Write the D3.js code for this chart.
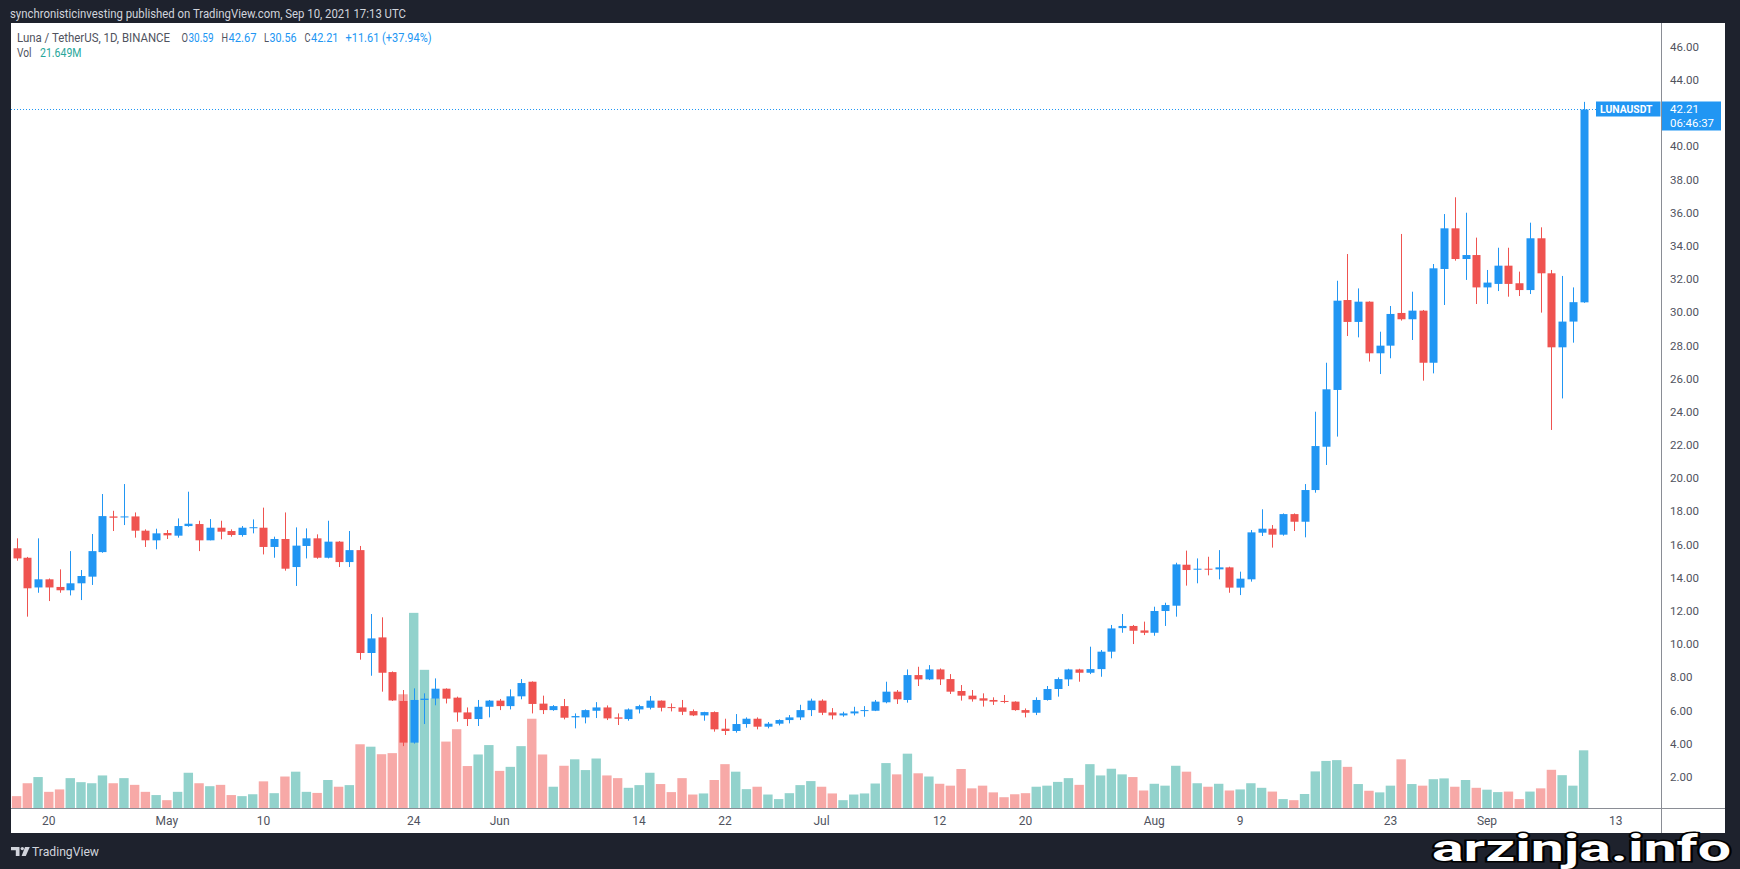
<!DOCTYPE html>
<html><head><meta charset="utf-8">
<script src="https://cdn.jsdelivr.net/npm/d3@7"></script>
<style>html,body{margin:0;padding:0;background:#1e222d;overflow:hidden}svg{display:block}text{font-family:Roboto,"Noto Sans",sans-serif}</style>
</head><body><svg id="c" width="1740" height="869"></svg>
<script>
// ---- data (LUNA/USDT daily, Apr 17 – Sep 10 2021) ----
const firstDay = new Date(Date.UTC(2021, 3, 17));
const lastDay = new Date(Date.UTC(2021, 8, 10));
const openV = [15.77,15.20,13.41,13.90,13.44,13.24,13.66,14.06,15.54,17.69,17.63,17.69,16.83,16.25,16.69,16.53,17.11,17.23,16.25,17.01,16.81,16.57,17.01,17.01,15.85,16.33,14.64,15.91,16.37,15.20,16.17,14.94,15.66,9.46,10.40,8.31,6.57,4.06,6.63,6.71,7.31,6.77,5.88,5.48,6.22,6.59,6.26,6.85,7.73,6.41,6.02,6.26,5.58,5.58,5.98,6.18,5.58,5.48,6.06,6.16,6.59,6.20,6.18,5.96,5.70,5.90,4.90,4.76,5.18,5.50,5.02,5.20,5.42,5.58,6.02,6.59,5.88,5.70,5.82,5.96,5.98,6.49,7.13,6.63,8.13,7.87,8.47,7.89,7.17,6.89,6.73,6.63,6.57,6.53,6.02,5.86,6.63,7.29,7.87,8.47,8.27,8.49,9.54,10.96,11.09,10.82,10.68,11.99,12.31,14.78,14.48,14.54,14.50,14.62,13.40,13.90,16.71,16.95,16.59,17.83,17.37,19.28,21.89,25.31,30.73,29.41,30.63,27.52,27.98,29.95,29.57,30.09,26.95,32.60,35.05,33.20,33.44,31.49,31.70,32.80,31.74,31.33,34.45,32.34,27.88,29.43,30.59];
const highV = [16.37,15.25,16.37,13.95,14.50,15.60,14.46,16.63,19.04,18.03,19.64,17.93,16.91,16.95,16.87,17.57,19.18,17.43,17.53,17.43,16.91,17.11,17.51,18.22,16.47,17.93,17.03,16.97,16.61,17.43,16.20,16.81,15.91,11.81,11.61,8.35,7.23,7.33,7.03,7.93,7.33,6.83,6.18,6.63,6.63,6.69,7.27,7.89,7.75,6.89,6.32,6.69,5.82,6.06,6.50,6.30,5.82,6.12,6.34,6.87,6.60,6.42,6.63,6.06,5.92,5.94,5.50,5.78,5.58,5.58,5.30,5.46,5.72,6.34,6.71,6.67,6.14,5.92,6.22,6.26,6.63,7.73,7.23,8.47,8.63,8.73,8.53,8.19,7.53,7.23,7.03,6.79,6.93,6.55,6.12,6.79,7.47,7.99,8.51,8.51,9.84,9.64,11.15,11.81,11.15,11.35,12.25,12.49,14.90,15.63,15.16,15.26,15.66,14.66,14.36,16.87,18.12,17.17,17.87,17.87,19.64,24.00,26.95,31.89,33.50,31.43,30.65,28.82,30.37,34.71,31.23,30.13,32.90,35.91,36.92,35.99,34.49,32.54,33.88,33.88,32.44,35.39,35.11,32.54,32.18,31.49,42.67];
const lowV = [15.02,11.65,13.09,12.59,13.09,12.93,12.65,13.56,15.50,16.81,17.17,16.41,15.85,15.71,16.33,16.41,17.07,15.60,16.25,16.31,16.47,16.47,16.67,15.40,15.20,14.42,13.50,15.16,15.14,15.16,14.64,14.64,9.06,8.09,7.13,6.57,3.85,4.00,5.18,6.31,6.42,5.32,5.06,5.06,5.58,6.02,6.06,6.67,5.82,5.78,5.98,5.46,4.92,5.22,5.54,5.42,5.12,5.38,5.82,6.06,5.94,5.94,5.72,5.66,5.38,4.72,4.52,4.66,4.96,4.86,4.92,5.10,5.22,5.42,5.66,5.72,5.46,5.62,5.70,5.62,5.96,6.43,6.39,6.47,7.47,7.83,7.53,6.99,6.59,6.53,6.23,6.33,6.43,5.98,5.58,5.72,6.59,6.83,7.47,7.73,8.19,8.03,9.14,10.68,10.00,10.54,10.50,11.09,11.65,13.52,13.66,14.14,13.90,13.09,12.95,13.76,16.51,15.81,16.53,16.81,16.43,19.12,20.79,22.50,28.56,28.48,27.02,26.27,27.22,29.49,28.32,25.87,26.31,30.43,33.10,31.94,30.49,30.49,31.27,30.93,30.97,31.09,29.97,22.90,24.80,28.16,30.56];
const closeV = [15.16,13.36,13.90,13.41,13.24,13.66,14.10,15.60,17.71,17.61,17.69,16.83,16.25,16.67,16.55,17.11,17.25,16.25,17.01,16.77,16.57,17.01,17.04,15.85,16.33,14.54,15.93,16.37,15.20,16.17,14.94,15.66,9.46,10.34,8.27,6.60,4.06,6.63,6.71,7.31,6.71,5.88,5.48,6.22,6.59,6.26,6.85,7.65,6.39,6.02,6.26,5.56,5.66,6.02,6.18,5.52,5.50,6.06,6.26,6.59,6.16,6.14,5.92,5.70,5.90,4.86,4.76,5.18,5.50,5.02,5.20,5.42,5.58,6.02,6.59,5.86,5.70,5.82,5.94,6.02,6.53,7.13,6.67,8.13,7.87,8.47,7.87,7.13,6.89,6.67,6.59,6.53,6.51,6.02,5.86,6.63,7.29,7.89,8.47,8.27,8.49,9.54,10.94,11.09,10.80,10.68,11.99,12.35,14.80,14.46,14.54,14.48,14.62,13.40,13.94,16.73,16.95,16.59,17.83,17.37,19.28,21.93,25.35,30.69,29.41,30.63,27.52,27.98,29.89,29.57,30.09,26.95,32.64,35.05,33.20,33.44,31.49,31.78,32.80,31.70,31.33,34.45,32.34,27.88,29.43,30.60,42.21];
const volumeM = [4.6,9.4,11.7,6.2,7.1,11.3,9.8,9.4,12.3,9.4,11.3,8.8,6.2,5.0,3.1,6.2,13.3,9.4,8.3,8.8,5.0,4.6,5.3,10.1,5.7,11.9,13.7,6.2,5.8,10.6,8.1,8.7,23.9,23.0,20.2,20.6,42.5,72.8,51.6,41.0,24.9,29.5,15.8,20.1,23.6,14.0,15.5,23.2,33.4,20.1,8.1,15.9,18.3,14.3,18.6,12.3,11.3,7.7,8.7,13.3,9.1,6.1,11.3,5.2,5.6,10.6,16.5,13.7,7.2,8.1,5.2,3.5,5.7,8.7,10.2,8.1,5.6,3.1,5.2,5.6,9.3,16.9,12.7,20.4,13.1,11.9,9.2,8.5,14.7,7.5,8.5,6.0,4.2,5.3,5.7,8.1,8.5,9.9,11.3,8.8,16.5,12.3,14.8,12.7,11.7,6.7,9.2,8.5,15.9,13.7,9.4,8.1,9.2,6.7,7.1,9.4,7.7,6.3,3.5,3.1,5.4,13.8,17.7,18.0,15.5,9.1,6.6,6.0,8.5,18.3,9.1,8.5,10.9,11.2,8.1,10.6,7.7,7.0,6.1,6.3,3.5,6.3,7.5,14.4,12.4,8.5,21.649];
const xTickDates = ["2021-04-20","2021-05-01","2021-05-10","2021-05-24","2021-06-01","2021-06-14","2021-06-22","2021-07-01","2021-07-12","2021-07-20","2021-08-01","2021-08-09","2021-08-23","2021-09-01","2021-09-13"];
const xTickLabels = ["20","May","10","24","Jun","14","22","Jul","12","20","Aug","9","23","Sep","13"];
const yTicks = [2,4,6,8,10,12,14,16,18,20,22,24,26,28,30,32,34,36,38,40,44,46];
const lastPrice = 42.21;

// ---- drawing ----
const dates = d3.utcDay.range(firstDay, d3.utcDay.offset(lastDay, 1));
const candles = dates.map((d, i) => ({d, o: openV[i], h: highV[i], l: lowV[i], c: closeV[i], v: volumeM[i]}));

const UP = "#2196F3", DOWN = "#EF5350", VUP = "#92D2CC", VDOWN = "#F7A9A7";
const svg = d3.select("#c");
const plot = {x0: 11, x1: 1661.5, y0: 23, y1: 808.5};

const x = d3.scaleUtc().domain([firstDay, lastDay]).range([16.6, 1583.6]);
const y = d3.scaleLinear().domain([0, 46]).range([810.0, 46.6]);
const yVol = d3.scaleLinear().domain([0, 80]).range([808.5, 593.5]);

svg.append("rect").attr("width", 1740).attr("height", 869).attr("fill", "#1e222d");
svg.append("text").attr("x", 10).attr("y", 17.5).attr("font-size", 12.5).attr("fill", "#d1d4dc")
  .attr("textLength", 396).attr("lengthAdjust", "spacingAndGlyphs")
  .text("synchronisticinvesting published on TradingView.com, Sep 10, 2021 17:13 UTC");

svg.append("rect").attr("x", 11).attr("y", 23).attr("width", 1714).attr("height", 810).attr("fill", "#ffffff");

const defs = svg.append("defs");
defs.append("clipPath").attr("id", "plotclip").append("rect")
  .attr("x", plot.x0).attr("y", plot.y0).attr("width", plot.x1 - plot.x0).attr("height", plot.y1 - plot.y0);

const g = svg.append("g").attr("clip-path", "url(#plotclip)");

// volume
g.append("g").selectAll("rect").data(candles).join("rect")
  .attr("x", d => x(d.d) - 4.7).attr("width", 9.4)
  .attr("y", d => yVol(d.v)).attr("height", d => yVol(0) - yVol(d.v))
  .attr("fill", d => d.c >= d.o ? VUP : VDOWN);

// last price dotted line
g.append("line").attr("x1", plot.x0).attr("x2", plot.x1)
  .attr("y1", Math.round(y(lastPrice)) + 0.5).attr("y2", Math.round(y(lastPrice)) + 0.5)
  .attr("stroke", UP).attr("stroke-width", 1).attr("stroke-dasharray", "1,2");

// candles
const cg = g.append("g").selectAll("g").data(candles).join("g")
  .attr("fill", d => d.c >= d.o ? UP : DOWN).attr("stroke", d => d.c >= d.o ? UP : DOWN);
cg.append("line")
  .attr("x1", d => Math.round(x(d.d)) + 0.5).attr("x2", d => Math.round(x(d.d)) + 0.5)
  .attr("y1", d => y(d.h)).attr("y2", d => y(d.l)).attr("stroke-width", 1);
cg.append("rect")
  .attr("x", d => Math.round(x(d.d)) - 3.5).attr("width", 8)
  .attr("y", d => y(Math.max(d.o, d.c)))
  .attr("height", d => Math.max(1, Math.abs(y(d.o) - y(d.c))))
  .attr("stroke", "none");

// separators
svg.append("line").attr("x1", 11).attr("x2", 1725).attr("y1", 808.5).attr("y2", 808.5).attr("stroke", "#8a8d95");
svg.append("line").attr("x1", 1661.5).attr("x2", 1661.5).attr("y1", 23).attr("y2", 833).attr("stroke", "#8a8d95");

// y axis labels
svg.append("g").selectAll("text").data(yTicks).join("text")
  .attr("x", 1670).attr("y", v => y(v) + 4.2).attr("font-size", 11.5).attr("fill", "#50535e")
  .text(v => d3.format(".2f")(v));

// x axis labels
const parse = d3.utcParse("%Y-%m-%d");
svg.append("g").selectAll("text").data(xTickDates).join("text")
  .attr("x", d => x(parse(d))).attr("y", 824.5).attr("text-anchor", "middle")
  .attr("font-size", 12).attr("fill", "#50535e")
  .text((d, i) => xTickLabels[i]);

// legend
const leg = svg.append("g").attr("font-size", 12);
const gray = "#50535e";
function t(xp, yp, s, col, len) {
  const e = leg.append("text").attr("x", xp).attr("y", yp).attr("fill", col).text(s);
  if (len) e.attr("textLength", len).attr("lengthAdjust", "spacingAndGlyphs");
  return e;
}
const last = candles[candles.length - 1];
const prev = candles[candles.length - 2];
const chg = last.c - prev.c;
t(17, 41.8, "Luna / TetherUS, 1D, BINANCE", gray, 153);
t(181.5, 41.8, "O", gray, 6.5); t(188.5, 41.8, d3.format(".2f")(last.o), UP, 25);
t(221.5, 41.8, "H", gray, 6.5); t(228.5, 41.8, d3.format(".2f")(last.h), UP, 28);
t(264, 41.8, "L", gray, 5); t(269.5, 41.8, d3.format(".2f")(last.l), UP, 27);
t(304.5, 41.8, "C", gray, 6); t(311, 41.8, d3.format(".2f")(last.c), UP, 27.5);
t(345.5, 41.8, "+" + d3.format(".2f")(chg) + " (+" + d3.format(".2f")(chg / prev.c * 100) + "%)", UP, 86);
t(17, 57.3, "Vol", gray, 14.5);
t(40, 57.3, d3.format(".3f")(last.v) + "M", "#26a69a", 41.5);

// price labels on right
const yl = Math.round(y(lastPrice));
svg.append("rect").attr("x", 1596).attr("y", yl - 7.5).attr("width", 64.5).attr("height", 15).attr("fill", UP);
svg.append("text").attr("x", 1600).attr("y", yl + 4).attr("font-size", 11).attr("font-weight", "bold")
  .attr("fill", "#fff").attr("textLength", 52.5).attr("lengthAdjust", "spacingAndGlyphs").text("LUNAUSDT");
svg.append("rect").attr("x", 1662).attr("y", yl - 7.5).attr("width", 59).attr("height", 29).attr("fill", UP);
svg.append("text").attr("x", 1670).attr("y", yl + 4).attr("font-size", 11.5).attr("fill", "#fff").text(d3.format(".2f")(lastPrice));
svg.append("text").attr("x", 1670).attr("y", yl + 18).attr("font-size", 11.5).attr("fill", "#fff")
  .attr("textLength", 44).attr("lengthAdjust", "spacingAndGlyphs").text("06:46:37");

// TradingView logo
const lg = svg.append("g").attr("fill", "#d1d4dc");
lg.append("path").attr("d", "M11,847 H19.5 V856 H15.8 V850.2 H11 Z");
lg.append("circle").attr("cx", 22.3).attr("cy", 848.6).attr("r", 1.7);
lg.append("path").attr("d", "M25,847 H29.8 L25.8,856 H21.6 Z");
svg.append("text").attr("x", 32).attr("y", 856).attr("font-size", 13).attr("fill", "#d1d4dc")
  .attr("textLength", 67).attr("lengthAdjust", "spacingAndGlyphs").text("TradingView");

// watermark
svg.append("text").attr("x", 1432).attr("y", 861).attr("font-size", 36).attr("font-weight", "bold")
  .attr("font-family", "'Liberation Sans', Arial, sans-serif")
  .attr("fill", "#ffffff").attr("stroke", "#000").attr("stroke-width", 3).attr("paint-order", "stroke")
  .attr("textLength", 299).attr("lengthAdjust", "spacingAndGlyphs").text("arzinja.info");
</script></body></html>
